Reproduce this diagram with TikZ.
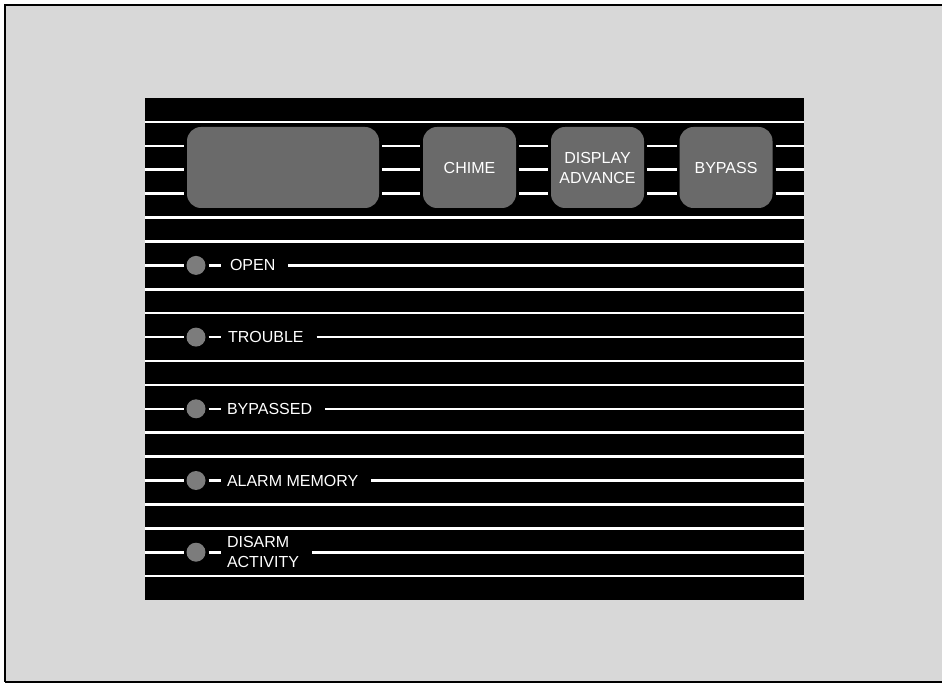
\documentclass[tikz,border=0pt]{standalone}
\usepackage{fontspec}
\setmainfont{Liberation Sans}
\definecolor{bggray}{HTML}{D8D8D8}
\definecolor{btngray}{HTML}{6A6A6A}
\definecolor{ledgray}{HTML}{7C7C7C}
\newcommand\pfont{\fontsize{16}{21}\selectfont}
\begin{document}
\begin{tikzpicture}[x=1pt,y=-1pt,
  wline/.style={draw=white, line width=2.6pt},
  btn/.style={fill=btngray, rounded corners=14pt, minimum height=81pt, minimum width=93pt,
    inner sep=0pt, outer sep=3pt, text=white, font=\pfont, align=center},
  led/.style={circle, fill=ledgray, minimum size=19pt, inner sep=0pt, outer sep=3pt},
  lbl/.style={text=white, font=\pfont, anchor=west, inner sep=0pt, outer sep=13pt, align=left}]
\useasboundingbox (0,0) rectangle (942,684);
\fill[white] (0,0) rectangle (942,684);
\fill[bggray] (5,5) rectangle (942,682);
\draw[line width=2.2pt] (942,5) -- (5,5) -- (5,682);
\draw[line width=1.4pt] (5,682) -- (942,682);
% panel
\node[fill=black, minimum width=659pt, minimum height=502pt, inner sep=0pt, outer sep=0pt, anchor=north west] (panel) at (145,98) {};
% full-width lines
\foreach \k in {0,4,5,7,8,10,11,13,14,16,17,19}{
  \pgfmathsetmacro\yy{122+23.9*\k}
  \draw[wline] (panel.west |- 0,\yy) -- (panel.east |- 0,\yy);
}
% buttons
\node[btn, minimum width=192pt] (disp) at (283,167.5) {};
\node[btn] (chime) at (469.5,167.5) {CHIME};
\node[btn] (dadv) at (597.5,167.5) {DISPLAY\\[-1pt]ADVANCE};
\node[btn] (bypass) at (726,167.5) {BYPASS};
\foreach \yy in {145.9,169.8,193.7}{
  \draw[wline] (panel.west |- 0,\yy) -- (disp.west |- 0,\yy);
  \draw[wline] (disp.east |- 0,\yy) -- (chime.west |- 0,\yy);
  \draw[wline] (chime.east |- 0,\yy) -- (dadv.west |- 0,\yy);
  \draw[wline] (dadv.east |- 0,\yy) -- (bypass.west |- 0,\yy);
  \draw[wline] (bypass.east |- 0,\yy) -- (panel.east |- 0,\yy);
}
% indicator rows
\foreach \n/\yy/\txt/\lx in {1/265.4/OPEN/217, 2/337.1/TROUBLE/215, 3/408.8/BYPASSED/214, 4/480.5/ALARM MEMORY/214, 5/552.2/{DISARM\\[-1pt]ACTIVITY}/214}{
  \node[led] (led\n) at (196,\yy) {};
  \coordinate (dash\n) at (221,\yy);
  \node[lbl] (lab\n) at (\lx,\yy) {\txt};
  \draw[wline] (panel.west |- led\n) -- (led\n.west);
  \draw[wline] (led\n.east) -- (dash\n);
  \draw[wline] (lab\n.east |- led\n) -- (panel.east |- led\n);
}
\end{tikzpicture}
\end{document}
